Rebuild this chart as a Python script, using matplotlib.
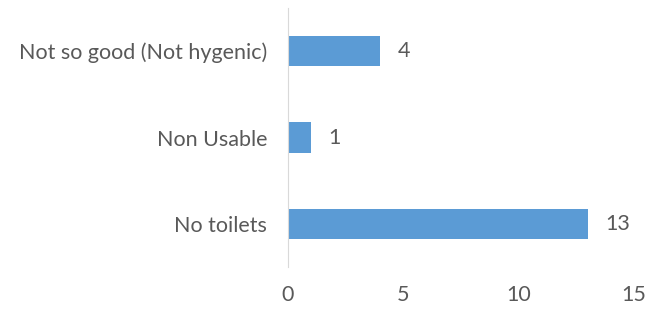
import matplotlib
matplotlib.use('Agg')
import matplotlib.pyplot as plt

# condition of toilets survey
categories = ['No toilets', 'Non Usable', 'Not so good (Not hygenic)']
counts = [13, 1, 4]
x_ticks = [0, 5, 10, 15]

plt.rcParams['font.family'] = ['Lato', 'DejaVu Sans']
grey = '#595959'

fig = plt.figure(figsize=(6.59, 3.13), dpi=100)
ax = fig.add_axes([288 / 659, 1 - 267 / 313, 346 / 659, 259 / 313])

pos = list(range(len(categories)))
ax.barh(pos, counts, height=0.35, color='#5B9BD5')
for p, c in zip(pos, counts):
	ax.text(c + 0.75, p, str(c), va='center', ha='left', fontsize=15.5, color=grey)

ax.set_xlim(0, 15)
ax.set_ylim(-0.5, len(categories) - 0.5)
ax.set_xticks(x_ticks)
ax.set_yticks(pos)
ax.set_yticklabels(categories)
ax.tick_params(axis='both', length=0, labelsize=15.5, labelcolor=grey)
ax.tick_params(axis='x', pad=13)
ax.tick_params(axis='y', pad=15)

for s in ['top', 'right', 'bottom']:
	ax.spines[s].set_visible(False)
ax.spines['left'].set_color('#D9D9D9')

fig.savefig('out.png', dpi=100)
